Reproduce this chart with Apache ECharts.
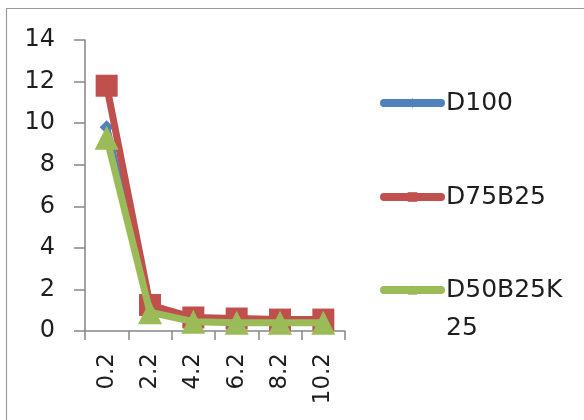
<!DOCTYPE html>
<html>
<head>
<meta charset="utf-8">
<script src="https://cdn.jsdelivr.net/npm/echarts@6/dist/echarts.min.js"></script>
<style>
  html, body { margin: 0; padding: 0; background: #fff; }
  #chart { width: 584px; height: 420px; }
</style>
</head>
<body>
<div id="chart"></div>
<script>
// Categories along the x axis
const categories = ['0.2', '2.2', '4.2', '6.2', '8.2', '10.2'];

// Series values
const seriesNames = ['D100', 'D75B25', 'D50B25K25'];
const d100 = [9.8, 1.0, 0.5, 0.45, 0.45, 0.45];
const d75b25 = [11.8, 1.25, 0.65, 0.6, 0.55, 0.55];
const d50b25k25 = [9.3, 0.9, 0.45, 0.4, 0.4, 0.4];

// Y axis range
const yMin = 0, yMax = 14, yStep = 2;

const FONT = 'DejaVu Sans';
const textColor = '#1e1e1e';
const axisColor = '#868686';
const colors = ['#4F81BD', '#C0504D', '#9BBB59'];
const symbols = ['diamond', 'rect', 'triangle'];
const symbolSizes = [14, 22, 24];
const values = [d100, d75b25, d50b25k25];

const chart = echarts.init(document.getElementById('chart'), null, { renderer: 'canvas' });

const series = seriesNames.map((name, i) => ({
  name: name,
  type: 'line',
  data: values[i],
  symbol: symbols[i],
  symbolSize: symbolSizes[i],
  showAllSymbol: true,
  lineStyle: { color: colors[i], width: 7 },
  itemStyle: { color: colors[i] },
  z: 2 + i
}));

// one legend block per series, stacked on the right;
// the long name wraps, its second line is placed as a separate text
const legendTops = [88, 182, 275];
const legendLabels = { 'D50B25K25': 'D50B25K' };
const legends = seriesNames.map((name, i) => ({
  data: [name],
  left: 380,
  top: legendTops[i],
  padding: 0,
  orient: 'vertical',
  itemWidth: 57,
  itemHeight: 12,
  selectedMode: false,
  lineStyle: { width: 8, cap: 'round' },
  formatter: n => legendLabels[n] || n,
  textStyle: {
    fontFamily: FONT,
    fontSize: 25,
    color: textColor,
    lineHeight: 30
  }
}));

chart.setOption({
  animation: false,
  backgroundColor: '#fff',
  graphic: [{
    type: 'rect',
    shape: { x: 6.5, y: 8.5, width: 620, height: 440 },
    style: { fill: 'none', stroke: '#9a9a9a', lineWidth: 1.2 },
    silent: true,
    z: -10
  }, {
    type: 'text',
    left: 446,
    top: 316,
    style: { text: '25', font: '25px "DejaVu Sans"', fill: textColor },
    silent: true
  }],
  legend: legends,
  grid: { left: 85, top: 40, right: 239, bottom: 89, containLabel: false },
  xAxis: {
    type: 'category',
    data: categories,
    boundaryGap: true,
    axisLine: { lineStyle: { color: axisColor, width: 1.5 } },
    axisTick: { show: true, length: 9, alignWithLabel: false, lineStyle: { color: axisColor, width: 1.5 } },
    axisLabel: {
      rotate: 90,
      margin: 22,
      fontFamily: FONT,
      fontSize: 23,
      color: textColor
    },
    splitLine: { show: false }
  },
  yAxis: {
    type: 'value',
    min: yMin,
    max: yMax,
    interval: yStep,
    axisLine: { show: true, lineStyle: { color: axisColor, width: 1.5 } },
    axisTick: { show: true, length: 11, lineStyle: { color: axisColor, width: 1.5 } },
    axisLabel: {
      margin: 30,
      fontFamily: FONT,
      fontSize: 24,
      color: textColor
    },
    splitLine: { show: false }
  },
  series: series
});
</script>
</body>
</html>
